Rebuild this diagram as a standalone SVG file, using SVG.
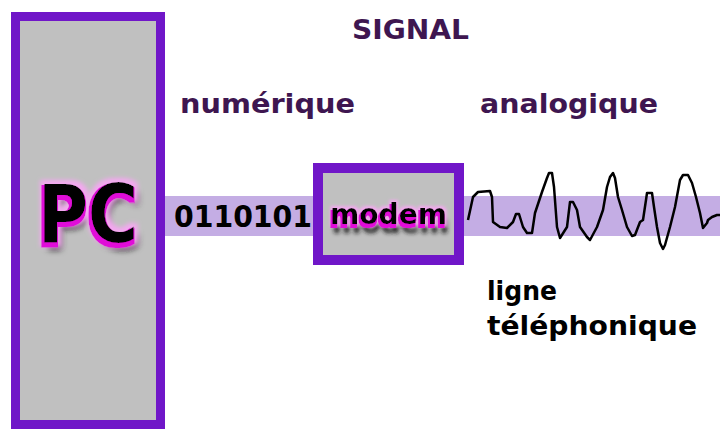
<svg xmlns="http://www.w3.org/2000/svg" width="720" height="438" viewBox="0 0 720 438">
<defs>
<style>
.box{fill:#C0C0C0;stroke:#7016C8}
.lbl{font-family:"DejaVu Sans",Verdana,sans-serif;font-weight:bold;fill:#3E1650}
.blk{font-family:"DejaVu Sans",Verdana,sans-serif;font-weight:bold;fill:#000}
.band{fill:#C4ADE4}
</style>
<filter id="pcfx" x="-30%" y="-30%" width="160%" height="170%">
<feOffset in="SourceAlpha" dx="4" dy="7" result="o1"/>
<feGaussianBlur in="o1" stdDeviation="3" result="sb"/>
<feFlood flood-color="#1a1a1a"/>
<feComposite in2="sb" operator="in" result="shadow"/>
<feMorphology in="SourceAlpha" operator="dilate" radius="4" result="g1"/>
<feGaussianBlur in="g1" stdDeviation="2" result="g2"/>
<feFlood flood-color="#F4A8F0"/>
<feComposite in2="g2" operator="in" result="glow"/>
<feMorphology in="SourceAlpha" operator="dilate" radius="2" result="m1"/>
<feOffset in="m1" dx="-1" dy="3" result="m2"/>
<feFlood flood-color="#E010D8"/>
<feComposite in2="m2" operator="in" result="mag"/>
<feMerge><feMergeNode in="shadow"/><feMergeNode in="glow"/><feMergeNode in="mag"/><feMergeNode in="SourceGraphic"/></feMerge>
</filter>
<filter id="modfx" x="-20%" y="-40%" width="140%" height="200%">
<feOffset in="SourceAlpha" dx="2" dy="9" result="o1"/>
<feGaussianBlur in="o1" stdDeviation="2" result="sb"/>
<feFlood flood-color="#1a1a1a"/>
<feComposite in2="sb" operator="in" result="shadow"/>
<feMorphology in="SourceAlpha" operator="dilate" radius="2" result="g1"/>
<feGaussianBlur in="g1" stdDeviation="1.5" result="g2"/>
<feFlood flood-color="#F4A8F0"/>
<feComposite in2="g2" operator="in" result="glow"/>
<feMorphology in="SourceAlpha" operator="dilate" radius="1" result="m1"/>
<feOffset in="m1" dx="-1" dy="3" result="m2"/>
<feFlood flood-color="#E010D8"/>
<feComposite in2="m2" operator="in" result="mag"/>
<feMerge><feMergeNode in="shadow"/><feMergeNode in="glow"/><feMergeNode in="mag"/><feMergeNode in="SourceGraphic"/></feMerge>
</filter>
</defs>
<rect width="720" height="438" fill="#fff"/>

<g id="connectors">
<rect class="band" x="165" y="196" width="555" height="40"/>
<polyline fill="none" stroke="#000" stroke-width="2.5" stroke-linejoin="round" points="468,220 473,197 478,192 490,191 492,197 493,222 500,227 507,228 513,222 516,214 519,214 523,227 527,233 532,233 535,213 542,192 547,178 549,173 552,173 554,187 557,227 560,238 567,227 570,202 573,202 577,210 580,227 587,237 590,240 597,227 603,210 607,187 610,177 613,173 615,178 618,197 622,210 627,227 632,236 635,235 640,222 643,220 646,200 647,193 652,193 654,207 657,227 660,243 663,249 665,245 670,227 675,207 680,180 683,175 688,175 692,183 696,197 700,213 703,228 707,223 708,220 712,217 717,215 720,215"/>
</g>

<g id="pc">
<rect class="box" x="15.5" y="16.5" width="145" height="408" stroke-width="9"/>
<text class="blk" x="38" y="242" font-size="80" textLength="100" lengthAdjust="spacingAndGlyphs" filter="url(#pcfx)">PC</text>
</g>

<g id="modem">
<rect class="box" x="318" y="168" width="141" height="92" stroke-width="10"/>
<text class="blk" x="330" y="224" font-size="28" textLength="117" lengthAdjust="spacingAndGlyphs" filter="url(#modfx)">modem</text>
</g>

<g id="labels">
<text class="lbl" x="352" y="39" font-size="27" textLength="117" lengthAdjust="spacingAndGlyphs">SIGNAL</text>
<text class="lbl" x="180" y="113" font-size="27" textLength="175" lengthAdjust="spacingAndGlyphs">numérique</text>
<text class="lbl" x="480" y="113" font-size="27" textLength="178" lengthAdjust="spacingAndGlyphs">analogique</text>
<text class="blk" x="174" y="227" font-size="31" textLength="138" lengthAdjust="spacingAndGlyphs">0110101</text>
<text class="blk" x="487" y="300" font-size="26" textLength="70" lengthAdjust="spacingAndGlyphs">ligne</text>
<text class="blk" x="487" y="335" font-size="26" textLength="210" lengthAdjust="spacingAndGlyphs">téléphonique</text>
</g>
</svg>
